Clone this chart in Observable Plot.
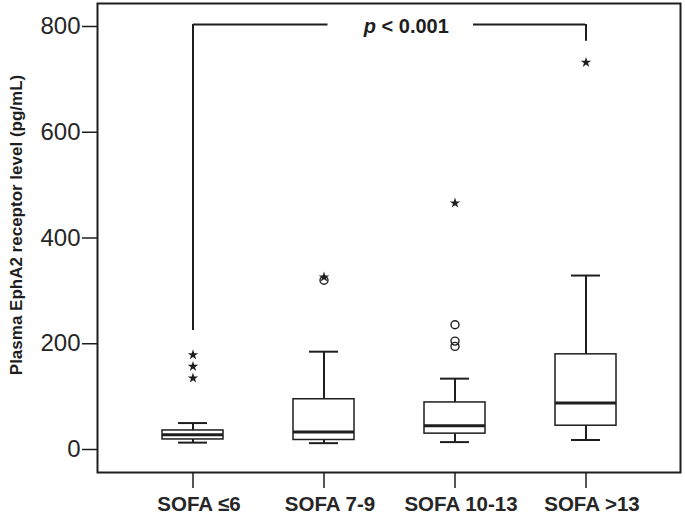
<!DOCTYPE html>
<html><head><meta charset="utf-8">
<script src="https://cdn.jsdelivr.net/npm/d3@7"></script>
<script src="https://cdn.jsdelivr.net/npm/@observablehq/plot@0.6"></script>
<style>body{margin:0;background:#fff;}</style>
</head><body><div id="chart"></div>
<script>
const categories = ["SOFA \u22646", "SOFA 7-9", "SOFA 10-13", "SOFA >13"];
const lowerWhisker = [13, 12, 14, 18];
const q1 = [19, 18, 30, 45];
const median = [28, 33, 45, 88];
const q3 = [36, 95, 89, 180];
const upperWhisker = [50, 185, 134, 329];
const circleCats = ["SOFA 7-9", "SOFA 10-13", "SOFA 10-13", "SOFA 10-13"];
const circleValues = [320, 236, 205, 195];
const starCats = ["SOFA \u22646", "SOFA \u22646", "SOFA \u22646", "SOFA 7-9", "SOFA 10-13", "SOFA >13"];
const starValues = [179, 157, 135, 326, 466, 732];
const yTicks = [0, 200, 400, 600, 800];
const yLabel = "Plasma EphA2 receptor level (pg/mL)";
const pText = "p";
const pRest = "\u00a0< 0.001";
const bracketTop = 804, bracketLeftBottom = 225, bracketRightBottom = 772;

const boxes = categories.map((c, i) => ({cat: c, lo: lowerWhisker[i], q1: q1[i], med: median[i], q3: q3[i], hi: upperWhisker[i]}));
const circles = circleCats.map((c, i) => ({cat: c, v: circleValues[i]}));
const stars = starCats.map((c, i) => ({cat: c, v: starValues[i]}));
const ink = "#1e1e1e";

const chart = Plot.plot({
  width: 685, height: 515,
  marginLeft: 97, marginRight: 5, marginTop: 3, marginBottom: 43,
  style: {fontFamily: "'Liberation Sans', Arial, sans-serif", background: "#fff", color: ink},
  x: {domain: categories, padding: 0, insetLeft: 28, insetRight: 28, label: null},
  y: {domain: [-43.5, 843.5], label: null},
  marks: [
    Plot.axisY({ticks: yTicks, tickSize: 15, tickPadding: 2, fontSize: 24, stroke: ink, strokeWidth: 1.5, fill: "#262626", label: null}),
    Plot.axisX({tickSize: 16, tickFormat: () => "", stroke: ink, strokeWidth: 1.5, label: null}),
    Plot.axisX({tickSize: 0, tickPadding: 24, fontSize: 20.5, fontWeight: "bold", dx: 6, fill: "#262626", label: null}),
    Plot.text([0], {frameAnchor: "left", textAnchor: "middle", text: () => yLabel, rotate: -90, dx: -81, dy: -13, fontWeight: "bold", fontSize: 17, fill: ink}),
    // whiskers
    Plot.ruleX(boxes, {x: "cat", y1: "q3", y2: "hi", stroke: ink, strokeWidth: 2}),
    Plot.ruleX(boxes, {x: "cat", y1: "lo", y2: "q1", stroke: ink, strokeWidth: 2}),
    Plot.tickY(boxes, {x: "cat", y: "hi", insetLeft: 51, insetRight: 51, stroke: ink, strokeWidth: 2}),
    Plot.tickY(boxes, {x: "cat", y: "lo", insetLeft: 51, insetRight: 51, stroke: ink, strokeWidth: 2}),
    // boxes
    Plot.rect(boxes, {x: "cat", y1: "q1", y2: "q3", insetLeft: 35, insetRight: 35, fill: "white", stroke: ink, strokeWidth: 1.5}),
    Plot.tickY(boxes, {x: "cat", y: "med", insetLeft: 35, insetRight: 35, stroke: ink, strokeWidth: 3}),
    // outliers
    Plot.dot(circles, {x: "cat", y: "v", r: 4, stroke: ink, fill: "none", strokeWidth: 1.4}),
    Plot.dot(stars, {x: "cat", y: "v", symbol: "star", r: 3.3, fill: ink, stroke: "none"}),
    // significance bracket
    Plot.ruleX([categories[0]], {x: d => d, y1: bracketLeftBottom, y2: bracketTop, stroke: ink, strokeWidth: 2}),
    Plot.ruleX([categories[3]], {x: d => d, y1: bracketRightBottom, y2: bracketTop, stroke: ink, strokeWidth: 2}),
    Plot.ruleY([bracketTop], {x1: () => categories[0], x2: () => categories[1], insetLeft: 66, insetRight: 61.5, stroke: ink, strokeWidth: 2}),
    Plot.ruleY([bracketTop], {x1: () => categories[2], x2: () => categories[3], insetLeft: 84, insetRight: 66, stroke: ink, strokeWidth: 2}),
    Plot.text([0], {x: () => categories[1], y: bracketTop, text: () => pText, textAnchor: "end", dx: 52, dy: 2, fontStyle: "italic", fontWeight: "bold", fontSize: 20, fill: ink}),
    Plot.text([0], {x: () => categories[1], y: bracketTop, text: () => pRest, textAnchor: "start", dx: 52, dy: 2, fontWeight: "bold", fontSize: 20, fill: ink}),
    Plot.frame({stroke: ink, strokeWidth: 2})
  ]
});
document.getElementById("chart").append(chart);
</script>
</body></html>
